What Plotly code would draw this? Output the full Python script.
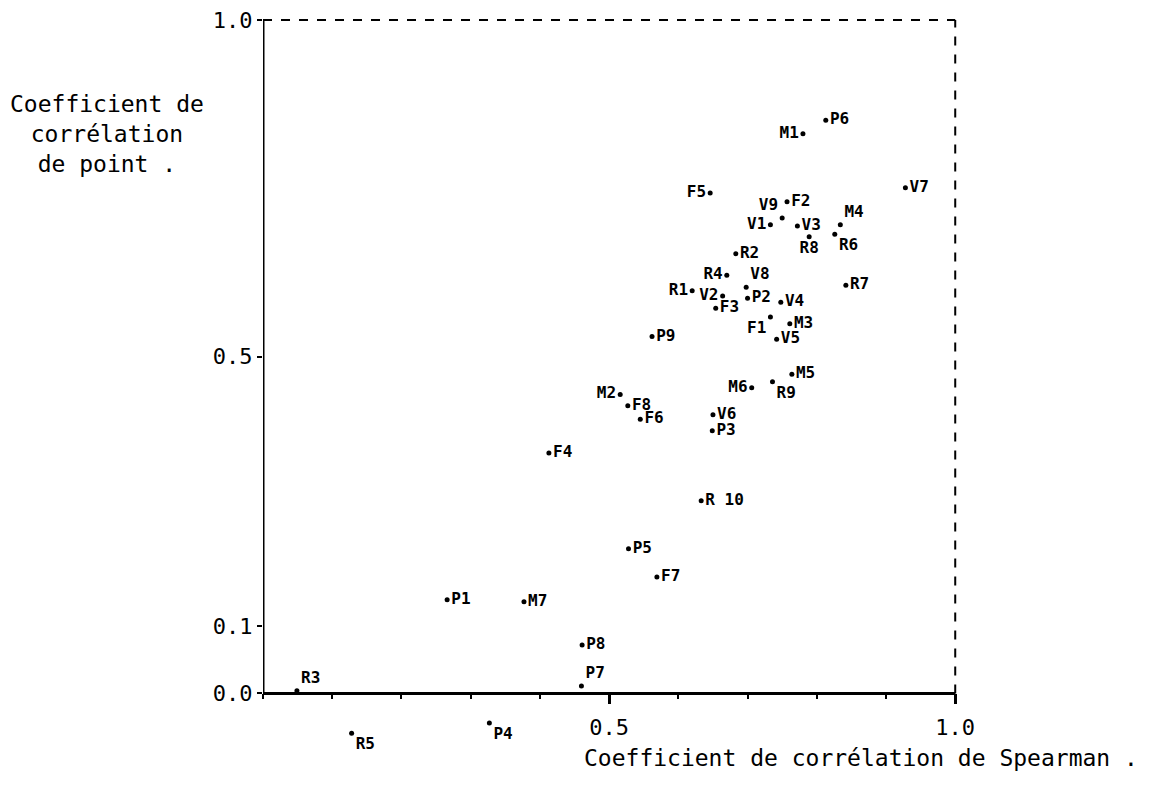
import plotly.graph_objects as go

# ---- data ----
labels = ["P6", "M1", "F5", "F2", "V9", "V1", "V3", "M4", "R6", "R8",
          "R2", "R4", "V8", "R1", "V2", "P2", "V4", "F3", "F1", "M3",
          "V5", "P9", "M5", "R9", "M6", "M2", "F8", "F6", "V6", "P3",
          "F4", "R 10", "V7", "R7", "P5", "F7", "P1", "M7", "P8", "P7",
          "R3", "R5", "P4"]
spearman = [0.813, 0.780, 0.646, 0.757, 0.750, 0.733, 0.772, 0.834, 0.826, 0.789,
            0.683, 0.670, 0.698, 0.620, 0.664, 0.700, 0.748, 0.654, 0.733, 0.761,
            0.742, 0.562, 0.764, 0.736, 0.706, 0.516, 0.527, 0.545, 0.650, 0.649,
            0.413, 0.633, 0.928, 0.842, 0.528, 0.569, 0.266, 0.377, 0.461, 0.460,
            0.049, 0.128, 0.327]
point_corr = [0.851, 0.831, 0.743, 0.730, 0.706, 0.696, 0.694, 0.696, 0.682, 0.678,
              0.653, 0.621, 0.603, 0.598, 0.590, 0.587, 0.581, 0.572, 0.559, 0.549,
              0.526, 0.530, 0.474, 0.463, 0.454, 0.444, 0.427, 0.407, 0.414, 0.390,
              0.357, 0.286, 0.751, 0.606, 0.215, 0.173, 0.139, 0.136, 0.072, 0.011,
              0.004, -0.059, -0.044]

y_tick_vals = [0.0, 0.1, 0.5, 1.0]
y_tick_text = ["0.0", "0.1", "0.5", "1.0"]
x_tick_vals = [0.5, 1.0]
x_tick_text = ["0.5", "1.0"]
x_minor_ticks = [0.0, 0.1, 0.2, 0.3, 0.4, 0.6, 0.7, 0.8, 0.9]

# label placement (style)
label_pos = {
    "M1": "middle left", "F5": "middle left", "V9": "top left", "V1": "middle left",
    "M4": "top right", "R6": "bottom right", "R8": "bottom center",
    "R4": "middle left", "V8": "top right", "R1": "middle left", "V2": "middle left",
    "F1": "bottom left", "R9": "bottom right", "M6": "middle left", "M2": "middle left",
    "P7": "top right", "R3": "top right", "R5": "bottom right", "P4": "bottom right",
}
positions = [label_pos.get(l, "middle right") for l in labels]

Y_MIN = -0.09
Y_MAX = 1.006
X_MAX = 1.004
MONO = "DejaVu Sans Mono"

fig = go.Figure()
fig.add_trace(go.Scatter(
    x=spearman, y=point_corr, mode="markers+text",
    text=labels, textposition=positions,
    textfont=dict(family=MONO, size=16, color="black", weight="bold"),
    marker=dict(size=5, color="black"),
    cliponaxis=False, showlegend=False, hoverinfo="text",
))
# invisible trace that carries the zero-line axis
fig.add_trace(go.Scatter(
    x=spearman, y=point_corr, mode="markers", xaxis="x2",
    marker=dict(opacity=0), showlegend=False, hoverinfo="skip",
))

pos0 = (0 - Y_MIN) / (Y_MAX - Y_MIN)

fig.update_layout(
    width=1148, height=774,
    margin=dict(l=255, r=198, t=8, b=28, autoexpand=False),
    paper_bgcolor="white", plot_bgcolor="white",
    font=dict(family=MONO, color="black"),
    xaxis=dict(range=[0, X_MAX], visible=False, showgrid=False, zeroline=False,
               automargin=False),
    xaxis2=dict(range=[0, X_MAX], overlaying="x", anchor="free", position=pos0,
                side="bottom", showline=False, automargin=False,
                tickvals=x_tick_vals, ticktext=x_tick_text,
                ticks="outside", ticklen=10, tickwidth=3, tickcolor="black",
                tickfont=dict(family=MONO, size=22, color="black"),
                ticklabelstandoff=4, ticklabeloverflow="allow",
                showgrid=False, zeroline=False,
                minor=dict(tickvals=x_minor_ticks, ticks="outside", ticklen=5,
                           tickwidth=2, tickcolor="black")),
    yaxis=dict(range=[Y_MIN, Y_MAX], tickvals=y_tick_vals, ticktext=y_tick_text,
               ticks="outside", ticklen=5, tickwidth=2, tickcolor="black",
               showgrid=False, zeroline=False, showline=False, automargin=False,
               ticklabeloverflow="allow",
               tickfont=dict(size=22)),
    shapes=[
        dict(type="line", xref="x", yref="y", x0=0, x1=0, y0=0, y1=1.0,
             line=dict(color="black", width=3)),
        dict(type="line", xref="x", yref="y", x0=0, x1=1.0, y0=0, y1=0,
             line=dict(color="black", width=3)),
        dict(type="line", xref="x", yref="y", x0=0, x1=1.0, y0=1.0, y1=1.0,
             line=dict(color="black", width=2, dash="dash")),
        dict(type="line", xref="x", yref="y", x0=1.0, x1=1.0, y0=0, y1=1.0,
             line=dict(color="black", width=2, dash="dash")),
    ],
    annotations=[
        dict(text="Coefficient de<br>corrélation<br>de point .", xref="paper", yref="paper",
             x=-0.224, y=0.84, xanchor="center", yanchor="middle", align="center",
             showarrow=False, font=dict(family=MONO, size=23, color="black")),
        dict(text="Coefficient de corrélation de Spearman .", xref="paper", yref="paper",
             x=1.262, y=-0.006, xanchor="right", yanchor="middle",
             showarrow=False, font=dict(family=MONO, size=23, color="black")),
    ],
)

fig.write_html("out.html")
